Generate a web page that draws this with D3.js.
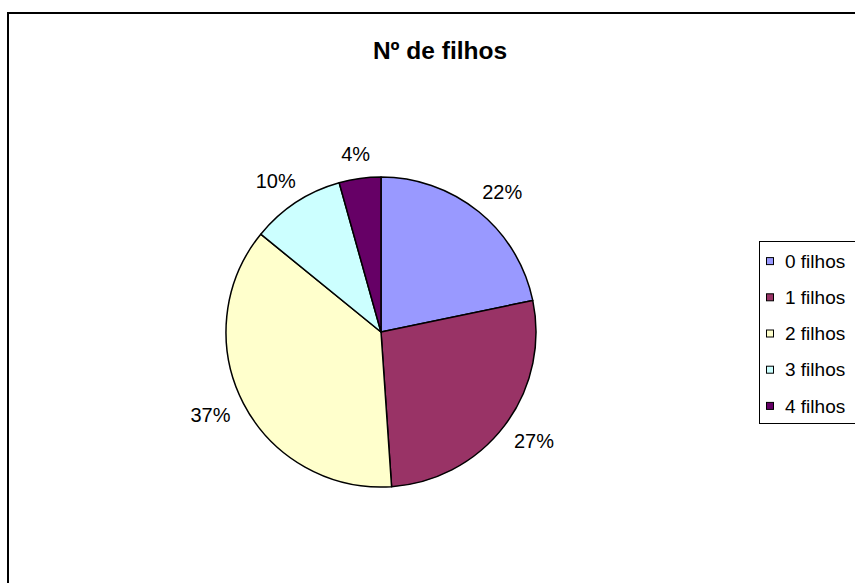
<!DOCTYPE html>
<html>
<head>
<meta charset="utf-8">
<script src="https://cdn.jsdelivr.net/npm/d3@7"></script>
<style>
  body { margin: 0; background: #fff; }
  text { font-family: "Liberation Sans", Arial, sans-serif; }
</style>
</head>
<body>
<svg id="chart" width="855" height="583"></svg>
<script>
// data (slice counts, shown as percentages)
var categories = ["0 filhos", "1 filhos", "2 filhos", "3 filhos", "4 filhos"];
var values = [20, 25, 34, 9, 4];
var colors = ["#9999ff", "#993366", "#ffffcc", "#ccffff", "#660066"];
var title = "Nº de filhos";

var svg = d3.select("#chart");

var cx = 381, cy = 332, radius = 155;

// chart area frame (runs off the right and bottom edge)
svg.append("rect")
  .attr("x", 8).attr("y", 13)
  .attr("width", 900).attr("height", 620)
  .attr("fill", "#fff")
  .attr("stroke", "#000")
  .attr("stroke-width", 2);

svg.append("text")
  .attr("x", 440).attr("y", 59)
  .attr("text-anchor", "middle")
  .attr("font-size", 24.5)
  .attr("font-weight", "bold")
  .text(title);

var color = d3.scaleOrdinal().domain(categories).range(colors);

var pie = d3.pie().sort(null).value(function(d, i) { return values[i]; });
var arcs = pie(categories);

var arc = d3.arc().innerRadius(0).outerRadius(radius);

var g = svg.append("g").attr("transform", "translate(" + cx + "," + cy + ")");

g.selectAll(".slice").data(arcs)
  .enter().append("path")
  .attr("class", "slice")
  .attr("d", arc)
  .attr("fill", function(d) { return color(d.data); })
  .attr("stroke", "#000")
  .attr("stroke-width", 1.5)
  .attr("stroke-linejoin", "round");

// labels: box edge kept at a fixed distance outside the pie, like excel does
var total = d3.sum(values);
var labelR = 172, labelH = 16;
g.selectAll(".lbl").data(arcs)
  .enter().append("text")
  .attr("class", "lbl")
  .attr("text-anchor", "middle")
  .attr("dy", "0.35em")
  .attr("font-size", 20)
  .text(function(d) { return Math.round(d.value / total * 100) + "%"; })
  .attr("transform", function(d) {
    var a = (d.startAngle + d.endAngle) / 2;
    var w = this.getComputedTextLength();
    var sx = Math.sin(a), sy = -Math.cos(a);
    var px = labelR * sx + w / 2 * sx;
    var py = labelR * sy + labelH / 2 * sy;
    return "translate(" + px + "," + py + ")";
  });

// legend
var ly = d3.scaleBand().domain(categories).range([243, 424]);

svg.append("rect")
  .attr("x", 759.5).attr("y", 241.5)
  .attr("width", 120).attr("height", 182)
  .attr("fill", "#fff")
  .attr("stroke", "#000")
  .attr("stroke-width", 1);

var item = svg.selectAll(".leg").data(categories)
  .enter().append("g")
  .attr("class", "leg")
  .attr("transform", function(d) { return "translate(0," + (ly(d) + ly.bandwidth() / 2) + ")"; });

item.append("rect")
  .attr("x", 766.5).attr("y", -3.5)
  .attr("width", 7).attr("height", 7)
  .attr("fill", function(d) { return color(d); })
  .attr("stroke", "#000")
  .attr("stroke-width", 1);

item.append("text")
  .attr("x", 785).attr("dy", "0.35em")
  .attr("font-size", 19)
  .text(function(d) { return d; });
</script>
</body>
</html>
